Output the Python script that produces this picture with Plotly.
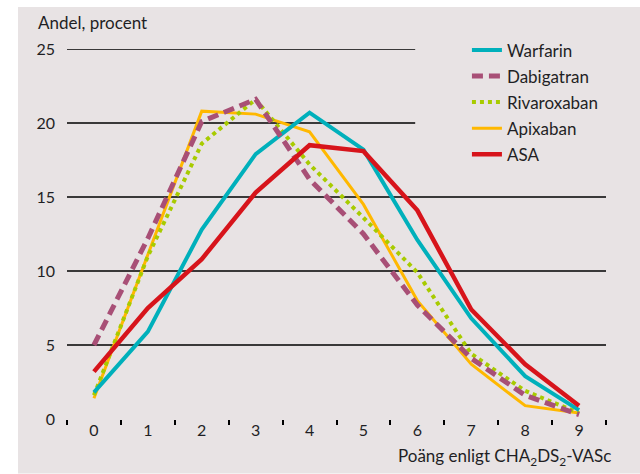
import plotly.graph_objects as go

categories = ["0", "1", "2", "3", "4", "5", "6", "7", "8", "9"]
warfarin = [1.8, 5.9, 12.8, 17.9, 20.7, 18.2, 12.1, 6.8, 2.9, 0.6]
dabigatran = [5.0, 12.2, 20.1, 21.6, 16.2, 12.5, 7.7, 4.1, 1.6, 0.3]
rivaroxaban = [1.6, 11.0, 18.6, 21.6, 17.2, 13.6, 9.9, 4.4, 1.9, 0.4]
apixaban = [1.4, 11.1, 20.8, 20.6, 19.4, 14.5, 8.0, 3.7, 0.9, 0.4]
asa = [3.2, 7.5, 10.8, 15.3, 18.5, 18.1, 14.1, 7.4, 3.7, 0.9]

y_ticks = [0, 5, 10, 15, 20, 25]
short_grid = [20, 25]
long_grid = [5, 10, 15]

BG = "#e8e3e4"
TXT = "#1f1f24"
FONT = "Lato"

fig = go.Figure()

series = [
    ("Apixaban", apixaban, dict(color="#ffb800", width=3), 4),
    ("Rivaroxaban", rivaroxaban, dict(color="#a8cb00", width=4, dash="4px,4px"), 3),
    ("Warfarin", warfarin, dict(color="#00b0bb", width=4), 1),
    ("Dabigatran", dabigatran, dict(color="#a84f76", width=5, dash="11px,6px"), 2),
    ("ASA", asa, dict(color="#d7141b", width=4.5), 5),
]
for name, vals, line, rank in series:
    fig.add_trace(go.Scatter(
        x=categories, y=vals, mode="lines", name=name, line=line,
        legendrank=rank, legendgroup=name,
    ))

shapes = [
    dict(type="rect", xref="paper", yref="paper",
         x0=(18 - 67) / 539, x1=(640 - 67) / 539,
         y0=(419.5 - 474) / 370.5, y1=(419.5 - 7) / 370.5,
         fillcolor=BG, line=dict(width=0), layer="below"),
]
for g in long_grid:
    shapes.append(dict(type="line", xref="x", yref="y", x0=-0.5, x1=9.5, y0=g, y1=g,
                       line=dict(color="black", width=1.5), layer="below"))
for g in short_grid:
    shapes.append(dict(type="line", xref="x", yref="y", x0=-0.5, x1=5.96, y0=g, y1=g,
                       line=dict(color="black", width=1.5), layer="below"))

fig.update_layout(
    width=640, height=474,
    margin=dict(l=67, r=34, t=49, b=54.5),
    paper_bgcolor="white", plot_bgcolor=BG,
    font=dict(family=FONT, size=17, color=TXT),
    shapes=shapes,
    showlegend=True,
    legend=dict(x=0.742, y=1.045, xanchor="left", yanchor="top",
                bgcolor="rgba(0,0,0,0)", font=dict(size=17, color=TXT),
                traceorder="grouped", tracegroupgap=1),
    xaxis=dict(type="category", range=[-0.5, 9.5], showgrid=False, zeroline=False,
               showline=False, ticks="outside", tickson="boundaries", ticklen=5,
               tickwidth=1.5, tickcolor="black", tickfont=dict(size=16, color=TXT)),
    yaxis=dict(range=[0, 25], tickvals=y_ticks, showgrid=False, zeroline=False,
               showline=False, ticks="", ticklabelstandoff=11,
               tickfont=dict(size=16, color=TXT)),
    annotations=[
        dict(text="Andel, procent", xref="paper", yref="paper",
             x=(36 - 67) / 539, y=(419.5 - 22) / 370.5, xanchor="left", yanchor="middle",
             showarrow=False, font=dict(size=17, color=TXT)),
        dict(text="Poäng enligt CHA<sub>2</sub>DS<sub>2</sub>-VASc", xref="paper", yref="paper",
             x=(613 - 67) / 539, y=(419.5 - 458) / 370.5, xanchor="right", yanchor="middle",
             showarrow=False, font=dict(size=17, color=TXT)),
    ],
)

fig.write_html("out.html", config={"displayModeBar": False},
               post_script="document.body.style.margin='0';")
